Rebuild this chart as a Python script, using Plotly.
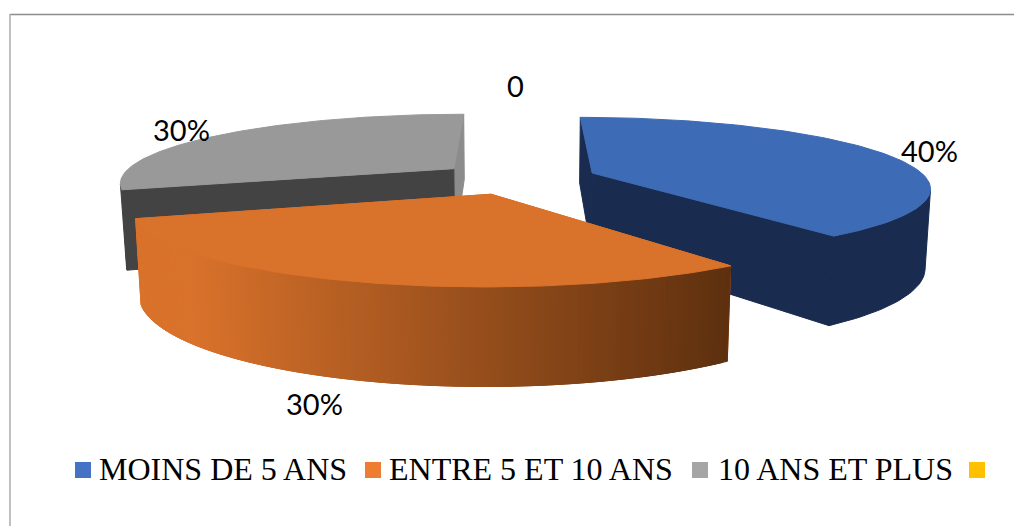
import numpy as np
import plotly.graph_objects as go

# Data
categories = ["MOINS DE 5 ANS", "ENTRE 5 ET 10 ANS", "10 ANS ET PLUS", ""]
shares = [40, 30, 30, 0]
slice_labels = ["40%", "30%", "30%", "0"]
legend_colors = ["#4472C4", "#ED7D31", "#A5A5A5", "#FFC000"]

# Face colours of each wedge
top_colors = ["#3E6BB5", "#D9722B", "#999999"]
wall_colors = ["#192B4F", "#D9722B", "#434343"]
back_wall_colors = ["#192B4F", "#D9722B", "#8C8C8C"]
gradient_left = np.array([0xD9, 0x72, 0x2B])
gradient_right = np.array([0x5E, 0x30, 0x0F])

# Pie camera: unit-radius disc, unit thickness, seen in perspective
X0, Y0 = 517, 178
RX, RY, RZ = 334, 68, 79
PERSP_Y, PERSP_Z = 0.19, -0.013
EXPLODE = 0.24


def project(x, y, z):
    w = 1 + PERSP_Y * y + PERSP_Z * z
    return X0 + RX * x / w, Y0 - (RY * y + RZ * z) / w


fig = go.Figure()


def polygon(xs, ys, color):
    xs, ys = list(xs), list(ys)
    fig.add_trace(go.Scatter(
        x=xs + xs[:1], y=ys + ys[:1], mode="lines", fill="toself", fillcolor=color,
        line=dict(color=color, width=1), hoverinfo="skip", showlegend=False,
    ))


def wedge_edges(start, end):
    mid = (start + end) / 2
    ex, ey = EXPLODE * np.sin(mid), EXPLODE * np.cos(mid)
    theta = np.linspace(start, end, 120)
    return ex, ey, theta, ex + np.sin(theta), ey + np.cos(theta)


def draw_wedge(index, start, end):
    ex, ey, theta, rim_x, rim_y = wedge_edges(start, end)

    # Radial walls meeting at the apex: the wall on the far side first
    for i, color in ((-1, back_wall_colors[index]), (0, wall_colors[index])):
        a = project(ex, ey, 0)
        b = project(rim_x[i], rim_y[i], 0)
        c = project(rim_x[i], rim_y[i], -1)
        d = project(ex, ey, -1)
        polygon([a[0], b[0], c[0], d[0]], [a[1], b[1], c[1], d[1]], color)

    # Outer wall where the clockwise rim runs leftwards, i.e. faces the viewer;
    # the middle wedge carries a gradient and is split into strips
    tx, ty = project(rim_x, rim_y, 0)
    bx, by = project(rim_x, rim_y, -1)
    front = np.gradient(tx) < 0
    if index == 1:
        for i in range(len(theta) - 2):
            j = i + 2
            mix = np.clip((tx[i] - 190) / (731 - 190), 0, 1)
            rgb = gradient_left + (gradient_right - gradient_left) * mix
            color = "rgb({:.0f},{:.0f},{:.0f})".format(*rgb)
            polygon([tx[i], tx[j], bx[j], bx[i]], [ty[i], ty[j], by[j], by[i]], color)
    else:
        polygon(np.r_[tx[front], bx[front][::-1]], np.r_[ty[front], by[front][::-1]],
                wall_colors[index])

    # Top face
    ax, ay = project(ex, ey, 0)
    polygon(np.r_[ax, tx], np.r_[ay, ty], top_colors[index])


# Wedges clockwise from twelve o'clock, painted back to front
edges = np.radians(np.cumsum([0] + shares) * 360 / sum(shares))
for index in (2, 0, 1):
    draw_wedge(index, edges[index], edges[index + 1])

# Data labels
label_x = [929, 314, 181, 515]
label_y = [150, 403, 129, 85]
for text, x, y in zip(slice_labels, label_x, label_y):
    fig.add_annotation(x=x, y=y, text=text, showarrow=False, xanchor="center", yanchor="middle",
                       font=dict(family="Lato", size=29, color="#000000"))

# Legend row
swatch_x = [83, 373, 700, 977]
text_x = [97, 387, 716]
legend_y = 469
fig.add_trace(go.Scatter(
    x=swatch_x, y=[470] * 4, mode="markers", hoverinfo="skip", showlegend=False,
    marker=dict(symbol="square", size=16, color=legend_colors, line=dict(width=0)),
))
for name, x in zip(categories, text_x):
    fig.add_annotation(x=x, y=legend_y, text=name, showarrow=False, xanchor="left", yanchor="middle",
                       font=dict(family="Liberation Serif", size=32, color="#000000"))

# Frame, open at the right and bottom
frame_color = "#8C8C8C"
fig.add_shape(type="line", x0=10, x1=1014, y0=14.5, y1=14.5, line=dict(color=frame_color, width=1.5))
fig.add_shape(type="line", x0=10, x1=10, y0=14, y1=526, line=dict(color="#ABABAB", width=1.5))

fig.update_xaxes(range=[0, 1014], visible=False, fixedrange=True)
fig.update_yaxes(range=[526, 0], visible=False, fixedrange=True)
fig.update_layout(
    width=1014, height=526, margin=dict(l=0, r=0, t=0, b=0),
    paper_bgcolor="white", plot_bgcolor="white",
)
fig.write_html("out.html", config={"displayModeBar": False})
